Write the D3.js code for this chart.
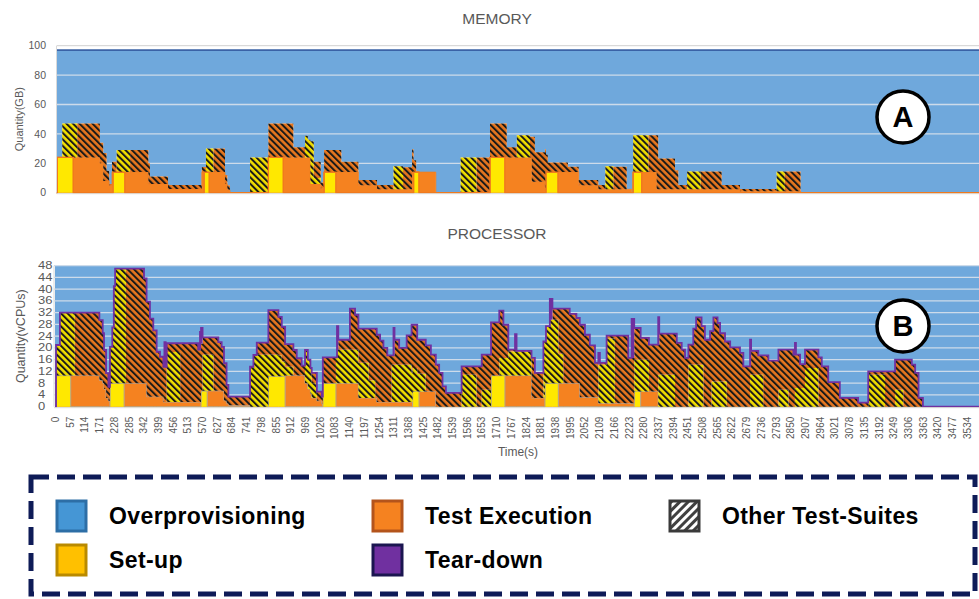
<!DOCTYPE html>
<html>
<head>
<meta charset="utf-8">
<script src="https://cdn.jsdelivr.net/npm/d3@7/dist/d3.min.js"></script>
<style>
  body { margin: 0; background: #fff; }
  svg { display: block; font-family: "Liberation Sans", Arial, sans-serif; }
</style>
</head>
<body>
<div class="chart"></div>
<script>
// stacked series, bottom to top (overprovisioning = capacity - the rest)
const seriesKeys = ['setup', 'exec', 'otherSetup', 'otherExec', 'teardown']
const memCapacity = 97
const cpuCapacity = 48
const memTicks = [0, 20, 40, 60, 80, 100]
const cpuTicks = [0, 4, 8, 12, 16, 20, 24, 28, 32, 36, 40, 44, 48]
const timeTicks = d3.range(0, 3535, 57)
const timeEnd = 3620

// [time(s), set-up, test execution, other set-up, other execution, tear-down]  (GB)
const memSteps = [
  [0, 0, 0, 0, 0, 0], [9, 24, 0, 0, 0, 0], [28, 24, 0, 23, 0, 0], [71, 0, 24, 23, 0, 0],
  [86, 0, 24, 0, 23, 0], [174, 0, 20, 0, 14, 0], [187, 0, 8, 0, 19, 0], [200, 0, 8, 0, 7, 0],
  [210, 0, 5, 0, 1, 0], [221, 0, 14, 0, 7, 0], [225, 14, 0, 0, 7, 0], [239, 14, 0, 15, 0, 0],
  [271, 0, 14, 15, 0, 0], [291, 0, 14, 0, 15, 0], [362, 0, 6, 0, 14, 0], [368, 0, 6, 0, 5, 0],
  [438, 0, 2.5, 0, 2.7, 0], [569, 0, 14, 0, 3.5, 0], [578, 14, 0, 0, 3.5, 0], [585, 14, 0, 16, 0, 0],
  [598, 0, 14, 16, 0, 0], [614, 0, 14, 0, 16, 0], [659, 0, 6, 0, 6, 0], [668, 0, 2, 0, 3, 0],
  [678, 0, 0, 0, 0, 0], [756, 0, 0, 24, 0, 0], [827, 24, 0, 0, 23, 0], [885, 0, 24, 0, 23, 0],
  [924, 0, 24, 0, 7, 0], [969, 0, 24, 14.8, 0, 0], [980, 0, 24, 12, 0, 0], [990, 0, 6, 29, 0, 0],
  [1003, 0, 6, 4, 11, 0], [1030, 0, 3, 0, 4, 0], [1043, 14, 0, 0, 15, 0], [1089, 0, 14, 0, 15, 0],
  [1110, 0, 14, 0, 7, 0], [1176, 0, 5, 0, 3.6, 0], [1248, 0, 2.3, 0, 2.9, 0], [1312, 0, 2.3, 15.7, 0, 0],
  [1349, 0, 2.3, 0, 15, 0], [1384, 0, 14, 0, 15.5, 0], [1390, 14, 0, 0, 8, 0], [1400, 14, 0, 0, 0, 0],
  [1411, 0, 14, 0, 0, 0], [1476, 0, 0, 0, 0, 0], [1572, 0, 0, 24, 0, 0], [1634, 0, 0, 0, 24, 0],
  [1686, 24, 0, 0, 23, 0], [1744, 0, 24, 0, 23, 0], [1751, 0, 24, 0, 7, 0], [1790, 0, 24, 15, 0, 0],
  [1841, 0, 24, 0, 14, 0], [1848, 0, 7.5, 0, 30.5, 0], [1860, 0, 7.5, 0, 20, 0], [1899, 0, 2, 0, 27.5, 0],
  [1903, 14, 0, 0, 12, 0], [1910, 14, 0, 0, 6.6, 0], [1950, 0, 14, 0, 6.6, 0], [1988, 0, 14, 0, 3.7, 0],
  [2030, 0, 5, 0, 3.6, 0], [2106, 0, 2.3, 0, 2.9, 0], [2133, 0, 2.3, 15.7, 0, 0], [2164, 0, 2.3, 0, 15.4, 0],
  [2216, 0, 2.3, 0, 0, 0], [2235, 0, 0, 0, 0, 0], [2241, 14, 0, 25, 0, 0], [2274, 0, 14, 25, 0, 0],
  [2300, 0, 14, 0, 25, 0], [2332, 0, 2.3, 0, 36.7, 0], [2338, 0, 2.3, 0, 21, 0], [2403, 0, 2.3, 0, 13, 0],
  [2416, 0, 2.3, 0, 3, 0], [2450, 0, 2.3, 12.2, 0, 0], [2503, 0, 2.3, 0, 12.2, 0], [2584, 0, 2.3, 0, 3, 0],
  [2655, 0, 1, 0, 1.5, 0], [2797, 0, 1, 13.5, 0, 0], [2829, 0, 1, 0, 13.5, 0], [2890, 0, 0, 0, 0, 0]
]

// same columns (vCPUs)
const cpuSteps = [
  [0, 0, 0, 0, 0, 0], [4, 10.6, 0, 10.4, 0, 0], [19, 10.6, 0, 21.4, 0, 0], [61, 0, 10.6, 21.4, 0, 0],
  [77, 0, 10.6, 0, 21.4, 0], [172, 0, 9, 0, 20.5, 0], [185, 0, 8, 0, 17, 0], [190, 0, 6, 0, 13.3, 0],
  [198, 0, 3, 0, 8.4, 0], [207, 0, 2, 0, 4.8, 0], [213, 8, 0, 12.4, 0, 0], [222, 8, 0, 19, 0, 0],
  [228, 8, 0, 33, 0, 0], [233, 8, 0, 39, 0, 0], [268, 0, 8, 39, 0, 0], [275, 0, 8, 0, 39, 0],
  [345, 0, 8, 0, 35.7, 0], [355, 0, 3.4, 0, 32.4, 0], [368, 0, 3.4, 0, 26.6, 0], [381, 0, 3.4, 0, 22.6, 0],
  [394, 0, 3.4, 0, 15.3, 0], [407, 0, 3.4, 0, 13.6, 0], [420, 0, 1.6, 0, 12, 0], [424, 0, 1.6, 0, 12, 8.4],
  [429, 0, 1.6, 0, 12, 0], [433, 0, 1.6, 17, 3, 0], [485, 0, 1.6, 0, 20, 0], [555, 0, 1.6, 0, 17.8, 0],
  [562, 0, 1.6, 0, 17.8, 6.1], [566, 5.4, 0, 0, 16, 5.4], [572, 5.4, 0, 12.3, 5.9, 0], [590, 0, 5.4, 12.3, 5.9, 0],
  [614, 0, 5.4, 0, 18.2, 0], [633, 0, 5.4, 0, 16.6, 0], [646, 0, 5.4, 0, 15, 0], [655, 0, 2, 0, 12.8, 0],
  [665, 0, 1, 0, 6.4, 0], [672, 0, 0.5, 0, 2.9, 0], [756, 0, 0, 13.6, 0, 0], [769, 0, 0, 17.6, 0, 0],
  [782, 0, 0, 17.7, 4.1, 0], [827, 10.4, 0, 7.3, 15.2, 0], [866, 10.4, 0, 7, 13.2, 0], [879, 10.4, 0, 5, 11.8, 0],
  [892, 0, 10.6, 3, 7.7, 0], [924, 0, 10.6, 0, 8.7, 0], [937, 0, 10.6, 0, 5.9, 0], [956, 0, 10.6, 0, 3.4, 0],
  [969, 0, 8, 11.3, 0, 0], [980, 0, 6, 10, 0, 0], [990, 0, 4.5, 8.7, 0, 0], [995, 0, 3, 5, 3.5, 0],
  [1015, 0, 2, 0, 3.1, 0], [1034, 0, 1, 0, 2.4, 0], [1038, 8, 0, 0, 8.8, 0], [1089, 0, 8, 8.8, 0, 0],
  [1093, 0, 8, 11.4, 0, 8], [1098, 0, 8, 11.4, 3.4, 0], [1143, 0, 8, 11.4, 14, 0], [1163, 0, 8, 11.4, 11.9, 0],
  [1176, 0, 3, 12, 11.6, 0], [1216, 0, 3, 6, 17.6, 0], [1241, 0, 3, 0, 23.6, 0], [1247, 0, 1.6, 0, 22.9, 0],
  [1260, 0, 1.6, 0, 20.9, 0], [1273, 0, 1.6, 0, 18.4, 0], [1288, 0, 1.6, 0, 15.9, 0], [1305, 0, 1.6, 12.7, 3.2, 0],
  [1312, 0, 1.6, 12.7, 3.2, 9.3], [1316, 0, 1.6, 12.7, 8.5, 0], [1334, 0, 1.6, 12.7, 5.7, 0], [1363, 0, 1.6, 12.7, 10, 0],
  [1382, 0, 1.6, 10, 16.3, 0], [1386, 5.2, 0, 8, 14.7, 0], [1404, 5.2, 0, 6, 11.6, 0], [1411, 0, 5.2, 6, 11.6, 0],
  [1437, 0, 5.2, 0, 15.7, 0], [1457, 0, 5.2, 0, 12.5, 0], [1476, 0, 0, 0, 14.3, 0], [1489, 0, 0, 0, 11.5, 0],
  [1502, 0, 0, 0, 6.9, 0], [1515, 0, 0, 0, 4.7, 0], [1576, 0, 0, 10.9, 2.8, 0], [1634, 0, 0, 0, 13.7, 0],
  [1654, 0, 0, 5.8, 11.9, 0], [1690, 10.6, 0, 0, 18.1, 0], [1722, 10.6, 0, 6, 16.1, 0], [1738, 10.6, 0, 6, 11.3, 0],
  [1744, 0, 10.6, 6, 11.3, 0], [1757, 0, 10.6, 8.2, 0.6, 0], [1783, 0, 10.6, 8.2, 0.6, 5.3], [1789, 0, 10.6, 8.2, 0.2, 0],
  [1847, 0, 3, 0, 13.6, 0], [1860, 0, 3, 0, 8.5, 0], [1893, 0, 3, 19.2, 0, 0], [1899, 8, 0, 14.2, 0, 0],
  [1903, 8, 0, 19.4, 0, 0], [1918, 8, 0, 21.6, 0, 7.1], [1928, 8, 0, 21.6, 3.8, 0], [1951, 0, 8, 10, 15.4, 0],
  [1970, 0, 8, 0, 25.4, 0], [1995, 0, 8, 0, 23.6, 0], [2021, 0, 8, 0, 22.2, 0], [2034, 0, 3.2, 0, 24.7, 0],
  [2054, 0, 3.2, 0, 21.3, 0], [2073, 0, 3.2, 0, 17.7, 0], [2093, 0, 3.2, 0, 11.7, 0], [2106, 0, 1.2, 13.1, 0, 4],
  [2112, 0, 1.2, 13.1, 0.6, 0], [2138, 0, 1.2, 22, 1, 0], [2170, 0, 1.2, 0, 23, 0], [2222, 0, 1.2, 0, 15.4, 0],
  [2235, 0, 1.2, 0, 15.4, 13.3], [2245, 5.2, 0, 10.8, 10.8, 0], [2270, 0, 5.2, 10.8, 7.4, 0], [2302, 0, 5.2, 0, 15.9, 0],
  [2338, 0, 0, 10.9, 10.2, 9.4], [2342, 0, 0, 10.9, 14, 0], [2403, 0, 0, 0, 24.9, 0], [2410, 0, 0, 0, 21.7, 0],
  [2429, 0, 0, 0, 19.4, 0], [2442, 0, 0, 0, 16.6, 0], [2455, 0, 0, 14.3, 6.8, 0], [2474, 0, 0, 14.3, 12.3, 0],
  [2485, 0, 0, 14.3, 16.1, 0], [2506, 0, 0, 14.3, 13.1, 0], [2513, 0, 0, 0, 27.4, 0], [2519, 0, 0, 0, 22.8, 0],
  [2539, 0, 0, 0, 25.7, 0], [2545, 0, 0, 8.6, 17.1, 0], [2552, 0, 0, 8.6, 21.8, 0], [2568, 0, 0, 8.6, 19.9, 0],
  [2578, 0, 0, 8.6, 16.4, 0], [2597, 0, 0, 8.6, 13.6, 0], [2604, 0, 0, 0, 22.2, 0], [2617, 0, 0, 0, 20.2, 0],
  [2655, 0, 0, 0, 18.3, 0], [2668, 0, 0, 0, 13.7, 0], [2694, 0, 0, 10.9, 2.8, 9.1], [2698, 0, 0, 10.9, 8.1, 0],
  [2726, 0, 0, 10.9, 6.6, 0], [2745, 0, 0, 0, 17.5, 0], [2765, 0, 0, 0, 15.7, 0], [2804, 0, 0, 5.8, 13.6, 0],
  [2843, 0, 0, 0, 19.4, 0], [2862, 0, 0, 0, 17.7, 0], [2868, 0, 0, 6.4, 11.3, 4], [2872, 0, 0, 6.4, 11.3, 0],
  [2888, 0, 0, 6.4, 8.1, 0], [2907, 0, 0, 13.2, 6.2, 0], [2959, 0, 0, 0, 16.8, 0], [2972, 0, 0, 0, 13.7, 0],
  [2997, 0, 0, 0, 8.4, 0], [3042, 0, 0, 0, 3, 0], [3113, 0, 0, 0, 1.4, 0], [3152, 0, 0, 10.9, 1.1, 0],
  [3217, 0, 0, 0, 12, 0], [3256, 0, 0, 5.8, 10.2, 0], [3288, 0, 0, 0, 16, 0], [3321, 0, 0, 0, 14.3, 0],
  [3334, 0, 0, 0, 11.5, 0], [3347, 0, 0, 0, 3, 0], [3364, 0, 0, 0, 0, 0]
]

const legendRow1 = ['Overprovisioning', 'Test Execution', 'Other Test-Suites']
const legendRow2 = ['Set-up', 'Tear-down']

// colours
const fills = {
  setup: '#FFE800', exec: '#F58220', otherSetup: 'url(#hatchYellow)',
  otherExec: 'url(#hatchOrange)', teardown: '#7030A0', over: '#6FA8DC'
}
const swatch = {
  'Overprovisioning': ['#4596D5', '#2D6EA6'],
  'Test Execution': ['#F58220', '#B4541B'],
  'Other Test-Suites': ['url(#hatchLegend)', '#3a3a3a'],
  'Set-up': ['#FFC000', '#B98A00'],
  'Tear-down': ['#7030A0', '#1B1650']
}

const W = 979, H = 599
const svg = d3.select('.chart').append('svg').attr('width', W).attr('height', H)
const defs = svg.append('defs')

function hatch(id, base, ink, rot, size, lw) {
  const p = defs.append('pattern')
    .attr('id', id).attr('patternUnits', 'userSpaceOnUse')
    .attr('width', size).attr('height', size)
    .attr('patternTransform', `rotate(${rot})`)
  p.append('rect').attr('width', size).attr('height', size).attr('fill', base)
  p.append('rect').attr('width', lw).attr('height', size).attr('fill', ink)
}
hatch('hatchYellow', '#F2DF00', '#1a1a1a', -45, 4.6, 2)
hatch('hatchOrange', '#E8771F', '#1a1a1a', -45, 4.6, 2)
hatch('hatchLegend', '#ffffff', '#404040', 45, 6, 3)

const x = d3.scaleLinear().domain([0, timeEnd]).range([55, 55 + timeEnd * 0.258])

function toRows(steps, capacity) {
  const rows = steps.map(s => {
    const r = {t: s[0]}
    seriesKeys.forEach((k, i) => r[k] = s[i + 1])
    r.over = capacity - d3.sum(seriesKeys, k => r[k])
    return r
  })
  rows.push(Object.assign({}, rows[rows.length - 1], {t: timeEnd}))
  return rows
}

function panel(opts) {
  const y = opts.y
  const rows = toRows(opts.steps, opts.capacity)
  const layers = d3.stack().keys([...seriesKeys, 'over'])(rows)
  const g = svg.append('g')

  defs.append('clipPath').attr('id', opts.id)
    .append('rect').attr('x', opts.left).attr('y', y.range()[1] - 2)
    .attr('width', W).attr('height', y.range()[0] - y.range()[1] + 3)
  const plot = g.append('g').attr('clip-path', `url(#${opts.id})`)

  const area = d3.area().curve(d3.curveStepAfter)
    .x(d => x(d.data.t)).y0(d => y(d[0])).y1(d => y(d[1]))

  const byKey = {}
  layers.forEach(l => byKey[l.key] = l)

  // blue first so the grid shows on it, then the used layers on top
  plot.append('path').datum(byKey.over).attr('d', area).attr('fill', fills.over)

  plot.selectAll('.grid').data(opts.ticks.filter(d => d > 0)).enter()
    .append('line').attr('class', 'grid')
    .attr('x1', opts.left).attr('x2', W)
    .attr('y1', d => y(d)).attr('y2', d => y(d))
    .attr('stroke', d => d > opts.capacity ? '#d9d9d9' : '#cddbea')
    .attr('stroke-width', 1.3)

  seriesKeys.forEach(k => {
    plot.append('path').datum(byKey[k]).attr('d', area)
      .attr('fill', fills[k])
      .attr('stroke', opts.strokes[k] || 'none')
      .attr('stroke-width', 0.8)
  })

  // excel keeps the execution series visible as a line on the baseline
  if (opts.baseLine) {
    plot.append('path').datum(byKey.exec)
      .attr('d', d3.line().curve(d3.curveStepAfter).x(d => x(d.data.t)).y(d => y(d[0])))
      .attr('fill', 'none').attr('stroke', opts.baseLine).attr('stroke-width', 1.4)
  }

  if (opts.capLine) {
    plot.append('line').attr('x1', opts.left).attr('x2', W)
      .attr('y1', y(opts.capacity)).attr('y2', y(opts.capacity))
      .attr('stroke', '#3A62A6').attr('stroke-width', 1.6)
  }
  if (opts.topLine) {
    plot.append('path').datum(byKey.teardown)
      .attr('d', d3.line().curve(d3.curveStepAfter).x(d => x(d.data.t)).y(d => y(d[1])))
      .attr('fill', 'none').attr('stroke', '#7030A0').attr('stroke-width', 1.8)
  }

  // axes lines
  g.append('line').attr('x1', opts.left).attr('x2', opts.left)
    .attr('y1', y.range()[1]).attr('y2', y.range()[0]).attr('stroke', '#d9d9d9')
  g.append('line').attr('x1', opts.left).attr('x2', W)
    .attr('y1', y(0) + 1).attr('y2', y(0) + 1).attr('stroke', '#d9d9d9')

  g.selectAll('.ylab').data(opts.ticks).enter()
    .append('text').attr('class', 'ylab')
    .attr('transform', d => `translate(${opts.labelX}, ${y(d)}) scale(${opts.labelStretch}, 1)`)
    .attr('dy', '0.35em')
    .style('text-anchor', opts.labelAnchor)
    .style('font-size', opts.labelSize + 'px').attr('fill', '#595959')
    .text(d => d)

  g.append('text')
    .attr('transform', `translate(${opts.titleX}, ${(y.range()[0] + y.range()[1]) / 2}) rotate(-90)`)
    .style('text-anchor', 'middle').attr('dy', '0.35em')
    .style('font-size', opts.titleSize + 'px').attr('fill', '#595959')
    .text(opts.yTitle)

  g.append('text').attr('x', 497).attr('y', opts.headY)
    .style('text-anchor', 'middle').style('font-size', '15.5px').attr('fill', '#595959')
    .text(opts.head)

  return g
}

const memY = d3.scaleLinear().domain([0, 100]).range([192.7, 45.7])
const cpuY = d3.scaleLinear().domain([0, 48]).range([406.7, 265.7])

panel({
  id: 'clipMem', y: memY, steps: memSteps, capacity: memCapacity, ticks: memTicks,
  left: 56.5, labelX: 46, labelAnchor: 'end', labelSize: 10.5, labelStretch: 1,
  titleX: 19, titleSize: 11, yTitle: 'Quantity(GB)', head: 'MEMORY', headY: 24,
  capLine: true, topLine: false, baseLine: '#F07A1E',
  strokes: {setup: '#F5B400', exec: '#EE7E22'}
})

panel({
  id: 'clipCpu', y: cpuY, steps: cpuSteps, capacity: cpuCapacity, ticks: cpuTicks,
  left: 54, labelX: 38, labelAnchor: 'start', labelSize: 10, labelStretch: 1.3,
  titleX: 21, titleSize: 12.5, yTitle: 'Quantity(vCPUs)', head: 'PROCESSOR', headY: 239,
  capLine: false, topLine: true, baseLine: null,
  strokes: {setup: '#F5C400', exec: '#a6a6a6'}
})

// time axis under the processor panel
const xAxis = d3.axisBottom(x).tickValues(timeTicks).tickSize(0).tickFormat(d3.format('d'))
svg.append('g')
    .attr('transform', `translate(0, ${cpuY(0)})`)
    .attr('font-family', null)
    .call(xAxis)
    .call(g => g.select('.domain').remove())
  .selectAll('text')
    .attr('transform', 'rotate(-90)')
    .attr('x', -10).attr('y', 0).attr('dy', '0.35em')
    .style('text-anchor', 'end').style('font-size', '10px').attr('fill', '#595959')

svg.append('text').attr('x', 518).attr('y', 456)
  .style('text-anchor', 'middle').style('font-size', '12px').attr('fill', '#595959')
  .text('Time(s)')

// A / B markers
;[['A', 117], ['B', 326]].forEach(([letter, cy]) => {
  svg.append('circle').attr('cx', 903).attr('cy', cy).attr('r', 26)
    .attr('fill', '#fff').attr('stroke', '#000').attr('stroke-width', 3.5)
  svg.append('text').attr('x', 903).attr('y', cy).attr('dy', '0.36em')
    .style('text-anchor', 'middle').style('font-size', '29px').style('font-weight', 'bold')
    .text(letter)
})

// legend
svg.append('rect').attr('x', 31).attr('y', 477).attr('width', 944).attr('height', 117)
  .attr('fill', 'none').attr('stroke', '#0E1B57').attr('stroke-width', 5)
  .attr('stroke-dasharray', '18 8')

const colX = [57, 373, 670]
;[[legendRow1, 501], [legendRow2, 545]].forEach(([names, top]) => {
  names.forEach((name, i) => {
    const [fill, edge] = swatch[name]
    svg.append('rect').attr('x', colX[i]).attr('y', top).attr('width', 29).attr('height', 30)
      .attr('fill', fill).attr('stroke', edge).attr('stroke-width', 3)
    svg.append('text').attr('x', colX[i] + 52).attr('y', top + 23)
      .style('font-size', '23px').style('font-weight', 'bold').style('letter-spacing', '0.4px')
      .attr('fill', '#000')
      .text(name)
  })
})
</script>
</body>
</html>
